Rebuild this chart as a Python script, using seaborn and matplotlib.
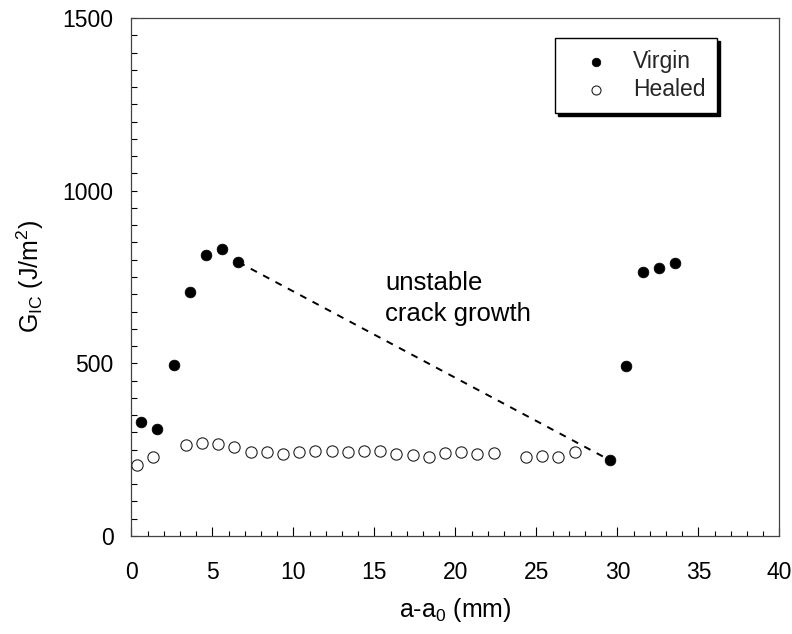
import matplotlib
matplotlib.use("Agg")
import matplotlib.pyplot as plt
import seaborn as sns
import pandas as pd
from matplotlib.ticker import MultipleLocator

# ---- data ----
virgin_x = [0.6, 1.6, 2.6, 3.6, 4.6, 5.6, 6.6, 29.55, 30.55, 31.55, 32.55, 33.55]
virgin_y = [331, 309, 494, 706, 813, 831, 793, 219, 493, 765, 775, 790]

healed_x = [0.35, 1.35, 3.35, 4.35, 5.35, 6.35, 7.35, 8.35, 9.35, 10.35, 11.35,
            12.35, 13.35, 14.35, 15.35, 16.35, 17.35, 18.35, 19.35, 20.35, 21.35,
            22.35, 24.35, 25.35, 26.35, 27.35]
healed_y = [206, 230, 264, 268, 265, 257, 242, 242, 238, 243, 245, 247, 242, 246,
            246, 238, 235, 229, 241, 242, 238, 241, 230, 233, 230, 242]

# unstable crack growth connects these two virgin points
jump_idx = [6, 7]

x_ticks = [0, 5, 10, 15, 20, 25, 30, 35, 40]
y_ticks = [0, 500, 1000, 1500]

sns.set_theme(style="white")
plt.rcParams["font.family"] = ["Liberation Sans", "DejaVu Sans"]
plt.rcParams["mathtext.fontset"] = "custom"
plt.rcParams["mathtext.rm"] = "Liberation Sans"
plt.rcParams["mathtext.it"] = "Liberation Sans"
plt.rcParams["mathtext.default"] = "regular"

fig = plt.figure(figsize=(7.92, 6.34), dpi=100)
ax = fig.add_axes([0.166, 0.1546, 0.8182, 0.8170])

vdf = pd.DataFrame({"x": virgin_x, "y": virgin_y})
hdf = pd.DataFrame({"x": healed_x, "y": healed_y})
ldf = vdf.iloc[jump_idx]

sns.lineplot(data=ldf, x="x", y="y", ax=ax, color="black", lw=1.4,
             linestyle=(0, (3.6, 3.6)), zorder=1)
sns.scatterplot(data=vdf, x="x", y="y", ax=ax, s=60, color="black",
                edgecolor="black", linewidth=0.5, label="Virgin", zorder=3)
sns.scatterplot(data=hdf, x="x", y="y", ax=ax, s=66, facecolor="white",
                edgecolor="#222222", linewidth=0.8, label="Healed", zorder=3)

ax.set_xlim(0, 40)
ax.set_ylim(0, 1500)
ax.set_xticks(x_ticks)
ax.set_yticks(y_ticks)
ax.xaxis.set_minor_locator(MultipleLocator(1))
ax.yaxis.set_minor_locator(MultipleLocator(50))
ax.tick_params(axis="x", which="major", direction="in", length=6.5, width=0.8,
               labelsize=16.5, pad=18, colors="black", bottom=True, top=False)
ax.tick_params(axis="x", which="minor", direction="in", length=3.3, width=0.8,
               bottom=True, top=False, colors="black")
ax.tick_params(axis="y", which="major", direction="in", length=4.3, width=0.8,
               labelsize=16.5, pad=13, colors="black", left=True, right=False)
ax.tick_params(axis="y", which="minor", direction="in", length=4.3, width=0.8,
               left=True, right=False, colors="black")

for sp in ax.spines.values():
    sp.set_visible(True)
    sp.set_color("#444444")
    sp.set_linewidth(0.9)

ax.set_xlabel("a-a$_0$ (mm)", fontsize=18, labelpad=9, color="black")
ax.set_ylabel("G$_{IC}$ (J/m$^2$)", fontsize=18, labelpad=12, color="black")

ax.text(15.65, 768, "unstable\ncrack growth", fontsize=18.5, ha="left",
        va="top", linespacing=1.4, color="black")

leg = ax.legend(loc="upper right", bbox_to_anchor=(0.9035, 0.961),
                borderaxespad=0, fontsize=16.5, frameon=True, fancybox=False,
                framealpha=1, edgecolor="black", markerscale=0.8,
                handlelength=2.6, handletextpad=0.3, borderpad=0.5,
                labelspacing=0.25,
                shadow={"color": "black", "alpha": 1.0})
leg.get_frame().set_linewidth(1.0)

fig.savefig("out.png", dpi=100)
